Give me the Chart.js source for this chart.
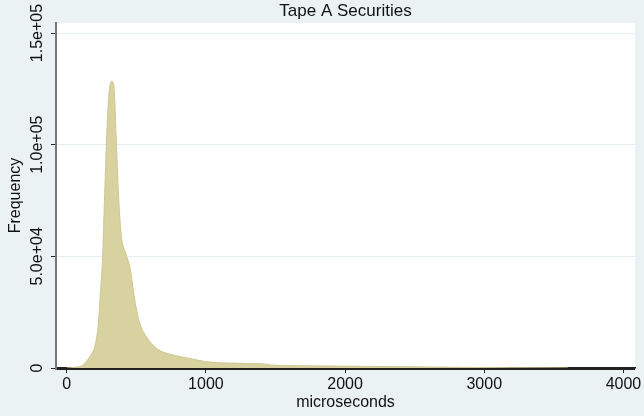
<!DOCTYPE html>
<html>
<head>
<meta charset="utf-8">
<script src="https://cdn.jsdelivr.net/npm/chart.js@4/dist/chart.umd.min.js"></script>
<style>
  html, body { margin: 0; padding: 0; background: #EAF2F3; }
  #wrap { width: 644px; height: 416px; position: relative; }
</style>
</head>
<body>
<div id="wrap"><canvas id="c" width="644" height="416"></canvas></div>
<script>
// ---- data ----
const chartTitle = "Tape A Securities";
const xTitle = "microseconds";
const yTitle = "Frequency";
const micros = [0, 60, 118, 165, 201, 225, 242, 257, 273, 290, 309, 326, 341, 357, 374, 393, 424, 453, 489, 525, 573, 645, 765, 885, 1005, 1245, 1440, 1470, 1870, 2400, 2800, 3200, 3600];
const frequency = [0, 300, 1350, 5070, 9550, 18500, 33600, 48400, 78400, 108000, 126000, 128400, 124600, 100700, 75300, 58900, 51400, 45400, 30500, 20000, 14000, 8800, 5800, 4300, 2800, 2100, 1700, 1300, 900, 600, 300, 80, 0];
const xTicks = [0, 1000, 2000, 3000, 4000];
const yTicks = [0, 50000, 100000, 150000];
const yTickLabels = ["0", "5.0e+04", "1.0e+05", "1.5e+05"];

const FONT = "'Liberation Sans', Arial, Helvetica, sans-serif";
const BG = "#EAF2F3";

const bgPlugin = {
  id: 'bg',
  beforeDraw(chart) {
    const {ctx, chartArea: a} = chart;
    ctx.save();
    ctx.fillStyle = BG;
    ctx.fillRect(0, 0, chart.width, chart.height);
    ctx.fillStyle = "#FFFFFF";
    ctx.fillRect(a.left, a.top, a.right - a.left, a.bottom - a.top);
    ctx.restore();
  },
  afterDraw(chart) {
    const {ctx, chartArea: a} = chart;
    const y = chart.scales.y;
    ctx.save();
    // axis lines drawn above the filled area
    ctx.fillStyle = '#222';
    ctx.fillRect(a.left, Math.round(a.bottom), a.right - a.left, 2);
    ctx.fillStyle = '#777';
    ctx.fillRect(a.left - 1, a.top, 2, a.bottom - a.top + 2);
    // title
    ctx.fillStyle = "#111";
    ctx.font = "17px " + FONT;
    ctx.textAlign = "center";
    ctx.textBaseline = "alphabetic";
    ctx.fillText(chartTitle, (a.left + a.right) / 2, 16);
    // rotated y tick labels
    ctx.font = "16px " + FONT;
    yTicks.forEach((v, i) => {
      const py = y.getPixelForValue(v);
      ctx.save();
      ctx.translate(42, py);
      ctx.rotate(-Math.PI / 2);
      ctx.textAlign = "center";
      ctx.textBaseline = "alphabetic";
      ctx.fillText(yTickLabels[i], 0, 0);
      ctx.restore();
    });
    ctx.restore();
  }
};

new Chart(document.getElementById('c'), {
  type: 'line',
  data: {
    datasets: [{
      data: micros.map((m, i) => ({x: m, y: frequency[i]})),
      fill: 'origin',
      backgroundColor: '#D8D2A0',
      borderColor: '#CFC890',
      borderWidth: 1,
      pointRadius: 0,
      cubicInterpolationMode: 'monotone'
    }]
  },
  plugins: [bgPlugin],
  options: {
    responsive: false,
    animation: false,
    layout: { padding: { top: 23, right: 9, left: 0, bottom: 0 } },
    plugins: { legend: { display: false }, title: { display: false }, tooltip: { enabled: false } },
    scales: {
      x: {
        type: 'linear',
        min: -77,
        max: 4083,
        afterBuildTicks: s => { s.ticks = xTicks.map(v => ({value: v})); },
        afterFit: s => { s.height = 48; },
        grid: { drawOnChartArea: false, drawTicks: true, tickLength: 5, tickColor: '#222', tickWidth: 1 },
        border: { color: '#222', width: 1.5 },
        ticks: { color: '#111', font: { family: FONT, size: 16 }, padding: 2, maxRotation: 0, callback: v => String(v) },
        title: { display: true, text: xTitle, color: '#111', font: { family: FONT, size: 16 }, padding: { top: 0, bottom: 4 } }
      },
      y: {
        type: 'linear',
        min: 0,
        max: 154500,
        afterBuildTicks: s => { s.ticks = yTicks.map(v => ({value: v})); },
        afterFit: s => { s.width = 56; },
        grid: { color: '#E6EEF0', lineWidth: 1, drawTicks: true, tickLength: 5, tickColor: '#222', tickWidth: 1 },
        border: { color: '#777', width: 2 },
        ticks: { display: false },
        title: { display: true, text: yTitle, color: '#111', font: { family: FONT, size: 16 }, padding: { top: 6, bottom: 0 } }
      }
    }
  }
});
</script>
</body>
</html>
